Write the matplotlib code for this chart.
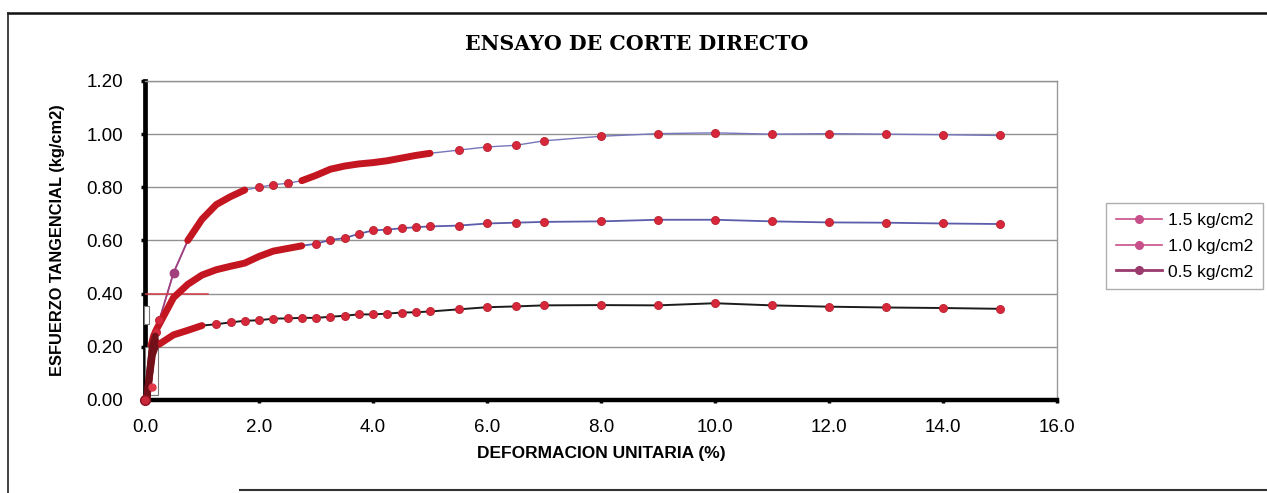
import matplotlib
matplotlib.use("Agg")
import matplotlib.pyplot as plt
from matplotlib.lines import Line2D
from matplotlib.patches import Rectangle
import numpy as np

# Strain (%) readings shared by the three tests
strain = [0.00, 0.05, 0.10, 0.15, 0.20, 0.25, 0.50, 0.75, 1.00, 1.25, 1.50, 1.75,
          2.00, 2.25, 2.50, 2.75, 3.00, 3.25, 3.50, 3.75, 4.00, 4.25, 4.50, 4.75,
          5.00, 5.50, 6.00, 6.50, 7.00, 8.00, 9.00, 10.00, 11.00, 12.00, 13.00,
          14.00, 15.00]

# Shear stress (kg/cm2) for each normal load
tau_15 = [0.000, 0.100, 0.200, 0.225, 0.255, 0.300, 0.478, 0.600, 0.680, 0.735,
          0.765, 0.790, 0.800, 0.810, 0.815, 0.825, 0.845, 0.868, 0.880, 0.888,
          0.893, 0.900, 0.910, 0.920, 0.928, 0.940, 0.952, 0.958, 0.975, 0.992,
          1.002, 1.005, 1.000, 1.002, 1.000, 0.998, 0.995]
tau_10 = [0.000, 0.100, 0.200, 0.240, 0.265, 0.285, 0.385, 0.435, 0.470, 0.490,
          0.503, 0.515, 0.540, 0.560, 0.570, 0.580, 0.588, 0.602, 0.609, 0.625,
          0.638, 0.641, 0.646, 0.650, 0.653, 0.656, 0.664, 0.667, 0.670, 0.672,
          0.678, 0.678, 0.672, 0.668, 0.667, 0.664, 0.662]
tau_05 = [0.000, 0.090, 0.170, 0.200, 0.205, 0.210, 0.245, 0.262, 0.280, 0.285,
          0.292, 0.298, 0.300, 0.306, 0.307, 0.309, 0.309, 0.313, 0.317, 0.322,
          0.322, 0.325, 0.329, 0.330, 0.333, 0.341, 0.349, 0.352, 0.356, 0.357,
          0.356, 0.364, 0.356, 0.351, 0.348, 0.346, 0.343]

labels = ["1.5 kg/cm2", "1.0 kg/cm2", "0.5 kg/cm2"]
x_ticks = [0, 2, 4, 6, 8, 10, 12, 14, 16]
y_ticks = [0.0, 0.2, 0.4, 0.6, 0.8, 1.0, 1.2]

W, H = 1267, 493
fig = plt.figure(figsize=(W / 100, H / 100), dpi=100)
fig.patch.set_facecolor("white")

ax = fig.add_axes([145 / W, 1 - 400 / H, (1057 - 145) / W, (400 - 81) / H])
ax.set_xlim(0, 16)
ax.set_ylim(0, 1.2)

s = np.array(strain)
series = [
    (np.array(tau_15), "#7676bc", 1.0, [(0.70, 1.90), (2.60, 5.02)]),
    (np.array(tau_10), "#5c5cac", 1.3, [(0.08, 2.80)]),
    (np.array(tau_05), "#1c1c1c", 1.4, [(0.08, 1.15)]),
]

mark_red = "#d6283a"
band_red = "#c41620"

for tau, col, lw, bands in series:
    ax.plot(s, tau, color=col, lw=lw, zorder=4)
    covered = np.zeros_like(s, dtype=bool)
    for a, b in bands:
        m = (s >= a) & (s <= b)
        covered |= m
        ax.plot(s[m], tau[m], color=band_red, lw=5.0, solid_capstyle="round",
                solid_joinstyle="round", zorder=6)
    free = ~covered & (s > 0.12)
    ax.plot(s[free], tau[free], ls="none", marker="o", ms=5.8,
            mfc=mark_red, mec="#b8202e", mew=0.6, zorder=7, clip_on=False)

# purple early segment and marker of the 1.5 kg/cm2 test
t15 = np.array(tau_15)
m = (s >= 0.10) & (s <= 0.75)
ax.plot(s[m], t15[m], color="#a2407e", lw=1.3, zorder=5)
ax.plot([0.5], [t15[s == 0.5][0]], ls="none", marker="o", ms=6,
        mfc="#a2407e", mec="#a2407e", zorder=7)

# stray red line on the 0.40 grid level
ax.plot([0.0, 1.1], [0.4, 0.4], color="#d63a44", lw=1.1, zorder=5)

# correction boxes over the vertical axis
ax.add_patch(Rectangle((-0.02, 0.285), 0.09, 0.07, facecolor="white",
                       edgecolor="#777777", lw=0.8, zorder=8, clip_on=False))
ax.add_patch(Rectangle((0.0, 0.02), 0.22, 0.178, facecolor="white",
                       edgecolor="#777777", lw=0.8, zorder=8, clip_on=False))

# dark start of the curves near the origin
for tau, col, lw, bands in series:
    m = s <= 0.15
    ax.plot(s[m] + 0.03, tau[m], color="#72101a", lw=5, solid_capstyle="round",
            zorder=9, clip_on=False)
ax.plot([0.0], [0.0], ls="none", marker="o", ms=7, mfc="#c8283a",
        mec="#8a1020", zorder=10, clip_on=False)
ax.plot([0.12], [0.05], ls="none", marker="o", ms=5, mfc="#e03848",
        mec="#e03848", zorder=10, clip_on=False)

# grid and frame
ax.set_yticks(y_ticks)
ax.set_xticks(x_ticks)
ax.yaxis.grid(True, color="#929292", lw=1.0)
ax.set_axisbelow(True)
ax.spines["left"].set_linewidth(3.4)
ax.spines["left"].set_color("black")
ax.spines["bottom"].set_linewidth(3.2)
ax.spines["bottom"].set_color("black")
ax.spines["right"].set_color("#9a9a9a")
ax.spines["right"].set_linewidth(1.0)
ax.spines["top"].set_color("#929292")
ax.spines["top"].set_linewidth(1.0)

ax.set_yticklabels([f"{v:.2f}" for v in y_ticks])
ax.set_xticklabels([f"{v:.1f}" for v in x_ticks])
ax.tick_params(axis="y", direction="out", length=3, width=2.5, pad=13,
               labelsize=13.5, colors="black")
ax.tick_params(axis="x", direction="out", length=2, width=2.5, pad=12,
               labelsize=13.5, colors="black")
for t in ax.get_xticklabels() + ax.get_yticklabels():
    t.set_fontfamily("Liberation Sans")

ax.set_xlabel("DEFORMACION UNITARIA (%)", fontsize=12.5, fontweight="bold",
              family="Liberation Sans", labelpad=7)
ax.set_ylabel("ESFUERZO TANGENCIAL (kg/cm2)", fontsize=11.8, fontweight="bold",
              family="Liberation Sans", labelpad=15)

fig.text(637 / W, 1 - 44 / H, "ENSAYO DE CORTE DIRECTO", ha="center",
         va="center", fontsize=14.8, fontweight="heavy", family="DejaVu Serif")

# legend
handles = [
    Line2D([], [], color="#c8508a", lw=1.2, marker="o", ms=5.5,
           mfc="#c8508a", mec="#c8508a"),
    Line2D([], [], color="#c8508a", lw=1.2, marker="o", ms=5.5,
           mfc="#c8508a", mec="#c8508a"),
    Line2D([], [], color="#9a3a6c", lw=2.0, marker="o", ms=5.5,
           mfc="#9a3a6c", mec="#9a3a6c"),
]
leg = fig.legend(handles, labels, loc="upper left",
                 bbox_to_anchor=(1106 / W, 1 - 203 / H), borderaxespad=0,
                 frameon=True, fancybox=False, edgecolor="#9a9a9a",
                 handlelength=2.7, handletextpad=0.3, labelspacing=0.62,
                 borderpad=0.55, prop={"family": "Liberation Sans", "size": 12.5})
leg.get_frame().set_linewidth(1.0)

# outer border
fig.add_artist(Line2D([8 / W, 1.0], [1 - 13 / H, 1 - 13 / H], color="#111111",
                      lw=1.8, transform=fig.transFigure))
fig.add_artist(Line2D([8 / W, 8 / W], [1 - 13 / H, 0.0], color="#222222",
                      lw=1.2, transform=fig.transFigure))
fig.add_artist(Line2D([240 / W, 1.0], [1 - 490 / H, 1 - 490 / H],
                      color="#333333", lw=1.5, transform=fig.transFigure))

fig.savefig("out.png", dpi=100, facecolor="white")
